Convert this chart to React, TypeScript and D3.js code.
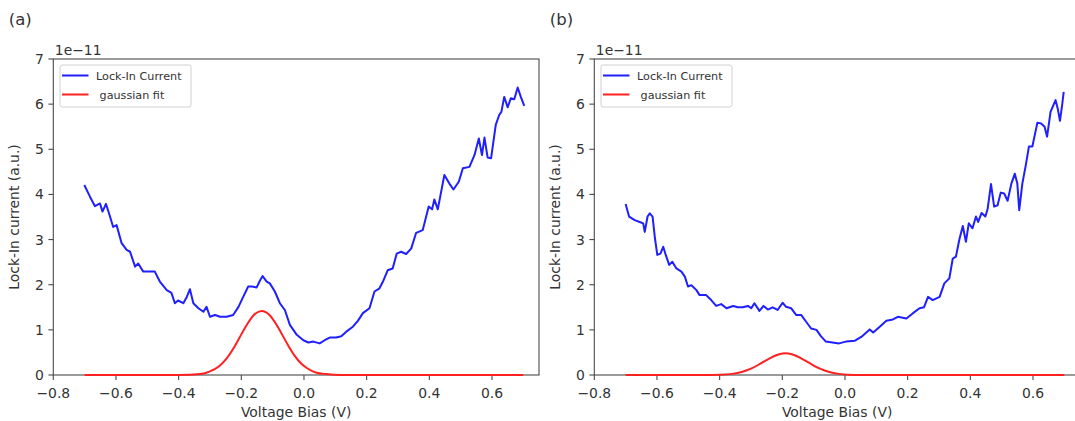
import React from 'react';
import * as d3 from 'd3';

const xTickValues = [-0.8, -0.6, -0.4, -0.2, 0, 0.2, 0.4, 0.6];
const yTickValues = [0, 1, 2, 3, 4, 5, 6, 7];
const panelLetters = ['(a)', '(b)'];
const seriesNames = ['Lock-In Current', ' gaussian fit'];

const biasA = [
  -0.701, -0.683, -0.667, -0.651, -0.643, -0.632, -0.619, -0.609, -0.598, -0.582, -0.566, -0.555, -0.539,
  -0.529, -0.513, -0.497, -0.476, -0.46, -0.438, -0.423, -0.412, -0.402, -0.385, -0.374, -0.364, -0.353,
  -0.337, -0.321, -0.311, -0.3, -0.284, -0.268, -0.247, -0.226, -0.209, -0.194, -0.178, -0.167, -0.151,
  -0.14, -0.132, -0.119, -0.109, -0.093, -0.077, -0.061, -0.045, -0.023, -0.002, 0.014, 0.03, 0.05, 0.066,
  0.082, 0.103, 0.119, 0.135, 0.156, 0.172, 0.188, 0.209, 0.225, 0.241, 0.252, 0.267, 0.283, 0.296, 0.31,
  0.326, 0.342, 0.358, 0.379, 0.398, 0.409, 0.416, 0.427, 0.448, 0.464, 0.477, 0.494, 0.507, 0.528, 0.544,
  0.558, 0.568, 0.576, 0.586, 0.597, 0.612, 0.623, 0.63, 0.639, 0.65, 0.66, 0.671, 0.682, 0.692, 0.703,
];
const lockInA = [
  4.21, 3.95, 3.74, 3.8, 3.62, 3.79, 3.51, 3.28, 3.32, 2.92, 2.77, 2.73, 2.4, 2.47, 2.29, 2.29, 2.29, 2.07,
  1.88, 1.82, 1.59, 1.65, 1.59, 1.73, 1.9, 1.59, 1.48, 1.4, 1.51, 1.29, 1.33, 1.29, 1.29, 1.33, 1.51, 1.73,
  1.96, 1.96, 1.94, 2.1, 2.19, 2.07, 2.03, 1.85, 1.59, 1.44, 1.11, 0.89, 0.77, 0.72, 0.74, 0.7, 0.77, 0.83,
  0.83, 0.86, 0.96, 1.07, 1.2, 1.37, 1.48, 1.85, 1.92, 2.07, 2.32, 2.36, 2.69, 2.73, 2.68, 2.8, 3.15, 3.21,
  3.73, 3.67, 3.89, 3.67, 4.43, 4.24, 4.11, 4.28, 4.58, 4.61, 4.87, 5.24, 4.87, 5.26, 4.82, 4.8, 5.54, 5.76,
  5.83, 6.16, 5.93, 6.13, 6.11, 6.37, 6.16, 5.96,
];
const fitBiasA = [
  -0.7, -0.4, -0.33, -0.3, -0.27, -0.25, -0.22, -0.2, -0.18, -0.16, -0.135, -0.11, -0.09, -0.07, -0.05,
  -0.03, -0.01, 0.01, 0.04, 0.07, 0.12, 0.7,
];
const fitA = [
  0, 0, 0.02, 0.08, 0.2, 0.34, 0.65, 0.9, 1.14, 1.33, 1.42, 1.33, 1.14, 0.9, 0.65, 0.43, 0.26, 0.15, 0.05,
  0.02, 0, 0,
];

const biasB = [
  -0.7, -0.689, -0.671, -0.655, -0.644, -0.639, -0.63, -0.623, -0.614, -0.607, -0.599, -0.589, -0.58, -0.572,
  -0.561, -0.551, -0.538, -0.522, -0.511, -0.501, -0.49, -0.474, -0.464, -0.443, -0.427, -0.411, -0.395,
  -0.378, -0.357, -0.342, -0.326, -0.31, -0.299, -0.289, -0.273, -0.26, -0.246, -0.231, -0.215, -0.199,
  -0.188, -0.172, -0.156, -0.14, -0.124, -0.108, -0.091, -0.077, -0.061, -0.04, -0.019, 0.003, 0.032, 0.053,
  0.079, 0.09, 0.111, 0.132, 0.153, 0.169, 0.196, 0.217, 0.238, 0.252, 0.265, 0.28, 0.302, 0.317, 0.333,
  0.344, 0.354, 0.365, 0.376, 0.386, 0.395, 0.407, 0.418, 0.425, 0.436, 0.448, 0.455, 0.466, 0.476, 0.487,
  0.497, 0.508, 0.519, 0.531, 0.542, 0.55, 0.556, 0.566, 0.577, 0.587, 0.598, 0.614, 0.626, 0.637, 0.645,
  0.656, 0.672, 0.679, 0.686, 0.693, 0.698,
];
const lockInB = [
  3.79, 3.51, 3.43, 3.39, 3.36, 3.17, 3.51, 3.58, 3.51, 3.06, 2.66, 2.69, 2.84, 2.66, 2.44, 2.51, 2.36, 2.29,
  2.18, 1.96, 1.99, 1.88, 1.77, 1.77, 1.66, 1.53, 1.57, 1.48, 1.53, 1.5, 1.5, 1.53, 1.48, 1.59, 1.42, 1.53,
  1.45, 1.5, 1.44, 1.6, 1.51, 1.48, 1.33, 1.33, 1.18, 1.03, 1.0, 0.86, 0.74, 0.72, 0.7, 0.74, 0.76, 0.85,
  1.01, 0.94, 1.07, 1.2, 1.23, 1.29, 1.25, 1.37, 1.48, 1.5, 1.73, 1.66, 1.73, 2.03, 2.14, 2.58, 2.62, 3.0,
  3.3, 2.95, 3.36, 3.25, 3.51, 3.39, 3.59, 3.51, 3.67, 4.23, 3.73, 3.76, 4.04, 4.02, 3.86, 4.24, 4.46, 4.24,
  3.65, 4.24, 4.65, 5.06, 5.06, 5.59, 5.57, 5.5, 5.28, 5.83, 6.09, 5.9, 5.63, 5.98, 6.27,
];
const fitBiasB = [
  -0.7, -0.45, -0.4, -0.36, -0.33, -0.3, -0.27, -0.24, -0.21, -0.19, -0.17, -0.14, -0.11, -0.08, -0.05,
  -0.02, 0.01, 0.05, 0.7,
];
const fitB = [
  0, 0, 0.005, 0.025, 0.065, 0.14, 0.25, 0.37, 0.46, 0.48, 0.46, 0.37, 0.25, 0.14, 0.065, 0.025, 0.005, 0, 0,
];

const FONT = 'DejaVu Sans, sans-serif';
const TOP = 59;
const BOTTOM = 375;
const WIDTH = 485.7;
const BLUE = '#1f1fff';
const RED = '#ff2020';
const SPINE = '#4a4a4a';
const TEXT = '#333';

type PanelProps = {
  ox: number;
  letter: string;
  bias: number[];
  cur: number[];
  fitX: number[];
  fitY: number[];
};

function Panel({ ox, letter, bias, cur, fitX, fitY }: PanelProps) {
  const x = d3.scaleLinear().domain([-0.8, 0.75]).range([ox, ox + WIDTH]);
  const y = d3.scaleLinear().domain([0, 7]).range([BOTTOM, TOP]);
  const fmt = d3.format('.1f');
  const line = d3
    .line<[number, number]>()
    .x((d) => x(d[0]))
    .y((d) => y(d[1]));
  const smooth = d3
    .line<[number, number]>()
    .x((d) => x(d[0]))
    .y((d) => y(d[1]))
    .curve(d3.curveMonotoneX);
  const blueD = line(bias.map((b, i) => [b, cur[i]] as [number, number])) || '';
  const redD = smooth(fitX.map((b, i) => [b, fitY[i]] as [number, number])) || '';
  const lx = ox + 6.7;
  const ly = 65;
  return (
    <g>
      <text x={ox - 44.5} y={25} fontSize={16.5} fill={TEXT} fontFamily={FONT}>
        {letter}
      </text>
      <text x={ox + 1.5} y={55} fontSize={13.9} fill={TEXT} fontFamily={FONT}>
        1e−11
      </text>
      {xTickValues.map((t) => (
        <g key={'x' + t}>
          <line x1={x(t)} x2={x(t)} y1={BOTTOM} y2={BOTTOM + 4.9} stroke={SPINE} strokeWidth={1.1} />
          <text
            x={x(t)}
            y={397.5}
            fontSize={13.9}
            textAnchor="middle"
            fill={TEXT}
            fontFamily={FONT}
          >
            {fmt(t)}
          </text>
        </g>
      ))}
      {yTickValues.map((t) => (
        <g key={'y' + t}>
          <line x1={ox - 4.9} x2={ox} y1={y(t)} y2={y(t)} stroke={SPINE} strokeWidth={1.1} />
          <text
            x={ox - 9.5}
            y={y(t)}
            dy="0.36em"
            fontSize={13.9}
            textAnchor="end"
            fill={TEXT}
            fontFamily={FONT}
          >
            {t}
          </text>
        </g>
      ))}
      <text
        x={ox + WIDTH / 2}
        y={417}
        fontSize={13.9}
        textAnchor="middle"
        fill={TEXT}
        fontFamily={FONT}
      >
        Voltage Bias (V)
      </text>
      <text
        transform={`translate(${ox - 34},${(TOP + BOTTOM) / 2}) rotate(-90)`}
        fontSize={13.9}
        textAnchor="middle"
        fill={TEXT}
        fontFamily={FONT}
      >
        Lock-In current (a.u.)
      </text>
      <rect
        x={ox}
        y={TOP}
        width={WIDTH}
        height={BOTTOM - TOP}
        fill="none"
        stroke={SPINE}
        strokeWidth={1.1}
      />
      <path d={blueD} fill="none" stroke={BLUE} strokeWidth={2} strokeLinejoin="round" />
      <path d={redD} fill="none" stroke={RED} strokeWidth={2} strokeLinejoin="round" />
      <rect
        x={lx}
        y={ly}
        width={131}
        height={42}
        rx={2.5}
        fill="white"
        fillOpacity={0.85}
        stroke="#d0d0d0"
        strokeWidth={1}
      />
      <line x1={lx + 2} x2={lx + 28.5} y1={ly + 10.5} y2={ly + 10.5} stroke={BLUE} strokeWidth={2} />
      <line x1={lx + 2} x2={lx + 28.5} y1={ly + 29.5} y2={ly + 29.5} stroke={RED} strokeWidth={2} />
      <text x={lx + 36} y={ly + 14.5} fontSize={11.2} fill={TEXT} fontFamily={FONT}>
        {seriesNames[0]}
      </text>
      <text x={lx + 36} y={ly + 33.5} fontSize={11.2} fill={TEXT} fontFamily={FONT} xmlSpace="preserve">
        {seriesNames[1]}
      </text>
    </g>
  );
}

export default function App() {
  return (
    <svg
      width={1075}
      height={421}
      viewBox="0 0 1075 421"
      style={{ position: 'absolute', left: 0, top: 0, background: 'white' }}
    >
      <rect x={0} y={0} width={1075} height={421} fill="white" />
      <Panel ox={53.3} letter={panelLetters[0]} bias={biasA} cur={lockInA} fitX={fitBiasA} fitY={fitA} />
      <Panel ox={594.3} letter={panelLetters[1]} bias={biasB} cur={lockInB} fitX={fitBiasB} fitY={fitB} />
    </svg>
  );
}
